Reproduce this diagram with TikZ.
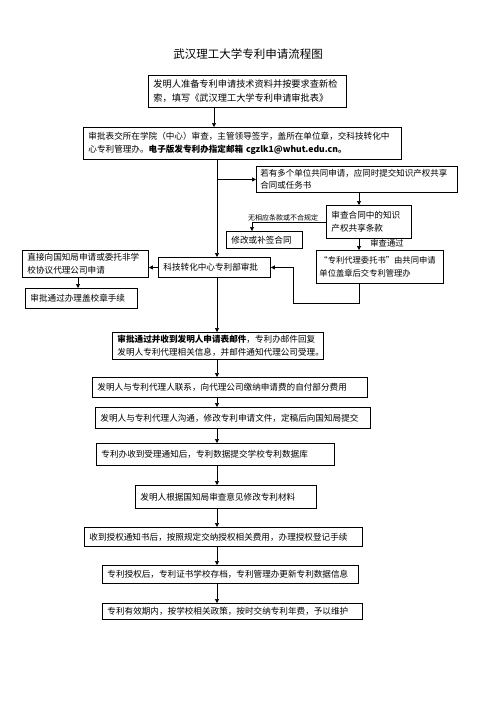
\documentclass[tikz,border=0pt]{standalone}
\usepackage{fontspec}
\newfontfamily\cjk{Noto Sans CJK SC}
\usetikzlibrary{arrows.meta,calc}
\begin{document}
\begin{tikzpicture}[x=1pt,y=-1pt,
  box/.style={draw, line width=0.9pt, anchor=north west, inner xsep=5pt, inner ysep=0pt, align=left, font=\cjk\fontsize{8.6}{13}\selectfont},
  arr/.style={line width=0.7pt, -{Triangle[length=4pt,width=4pt]}},
  lbl/.style={inner sep=0pt, font=\cjk\fontsize{7}{8}\selectfont}]
\useasboundingbox (0,0) rectangle (496,702);
\node[font=\cjk\fontsize{11.5}{13}\selectfont] (title) at (248,54) {武汉理工大学专利申请流程图};
\node[box, text width=188pt, minimum height=32pt, font=\cjk\fontsize{9.2}{14}\selectfont] (b1) at (148,75) {发明人准备专利申请技术资料并按要求查新检\\索，填写《武汉理工大学专利申请审批表》};
\node[box, text width=308pt, minimum height=32pt] (b2) at (83,127) {审批表交所在学院（中心）审查，主管领导签字，盖所在单位章，交科技转化中\\心专利管理办。{\bfseries 电子版发专利办指定邮箱 cgzlk1@whut.edu.cn。}};
\node[box, text width=193pt, inner xsep=4pt, minimum height=26pt, font=\cjk\fontsize{8.5}{12}\selectfont] (b3) at (256,166) {若有多个单位共同申请，应同时提交知识产权共享\\合同或任务书};
\node[box, text width=75pt, minimum height=33pt] (b4) at (326,205) {审查合同中的知识\\产权共享条款};
\node[box, text width=66pt, minimum height=17pt] (b5) at (226,231) {修改或补签合同};
\node[box, text width=121pt, inner xsep=3pt, minimum height=33pt, font=\cjk\fontsize{8.3}{13}\selectfont] (b6) at (316,250) {“专利代理委托书”由共同申请\\单位盖章后交专利管理办};
\node[box, text width=102pt, minimum height=20pt] (kj) at (158,257) {科技转化中心专利部审批};
\node[box, text width=116pt, minimum height=27pt] (b7) at (22,250) {直接向国知局申请或委托非学\\校协议代理公司申请};
\node[box, text width=102pt, minimum height=20pt] (b8) at (25,288) {审批通过办理盖校章手续};
\node[box, text width=201pt, minimum height=27pt] (b9) at (112,332) {{\bfseries 审批通过并收到发明人申请表邮件}，专利办邮件回复\\发明人专利代理相关信息，并邮件通知代理公司受理。};
\node[box, text width=265pt, minimum height=20pt] (b10) at (92,377) {发明人与专利代理人联系，向代理公司缴纳申请费的自付部分费用};
\node[box, text width=265pt, minimum height=21pt] (b11) at (95,407) {发明人与专利代理人沟通，修改专利申请文件，定稿后向国知局提交};
\node[box, text width=228pt, minimum height=22pt] (b12) at (96,443) {专利办收到受理通知后，专利数据提交学校专利数据库};
\node[box, text width=171pt, minimum height=23pt] (b13) at (135,485) {发明人根据国知局审查意见修改专利材料};
\node[box, text width=268pt, minimum height=19pt] (b14) at (84,527) {收到授权通知书后，按照规定交纳授权相关费用，办理授权登记手续};
\node[box, text width=246pt, minimum height=18pt] (b15) at (102,565) {专利授权后，专利证书学校存档，专利管理办更新专利数据信息};
\node[box, text width=250pt, minimum height=16pt] (b16) at (102,603) {专利有效期内，按学校相关政策，按时交纳专利年费，予以维护};
\node[lbl] (l1) at (283,218) {无相应条款或不合规定};
\node[lbl, font=\cjk\fontsize{8.3}{9}\selectfont] (l2) at (387,243) {审查通过};
\coordinate (m) at (217,0);
\coordinate (mt) at (214,0);
\coordinate (x359) at (359,0);
\coordinate (x252) at (252,0);
\coordinate (x78) at (78,0);
\draw[arr] (b1.south -| mt) -- (b2.north -| mt);
\draw[arr] (b2.south -| m) -- (kj.north -| m);
\draw[arr] (b3.west -| m) -- (b3.west);
\draw[arr] (b3.south -| x359) -- (b4.north -| x359);
\draw[arr] (b4.west) -| (x252 |- b5.north);
\draw[arr] (b4.south -| x359) -- (b6.north -| x359);
\draw[arr] (b6.south -| x359) -- ++(0,19) -| ($(kj.east)+(22,0)$) -- (kj.east);
\draw[arr] (kj.west) -- (kj.west -| b7.east);
\draw[arr] (b7.south -| x78) -- (b8.north -| x78);
\draw[arr] (kj.south -| m) -- (b9.north -| m);
\draw[arr] (b9.south -| m) -- (b10.north -| m);
\draw[arr] (b10.south -| m) -- (b11.north -| m);
\draw[arr] (b11.south -| m) -- (b12.north -| m);
\draw[arr] (b12.south -| m) -- (b13.north -| m);
\draw[arr] (b13.south -| m) -- (b14.north -| m);
\draw[arr] (b14.south -| m) -- (b15.north -| m);
\draw[arr] (b15.south -| m) -- (b16.north -| m);
\end{tikzpicture}
\end{document}
